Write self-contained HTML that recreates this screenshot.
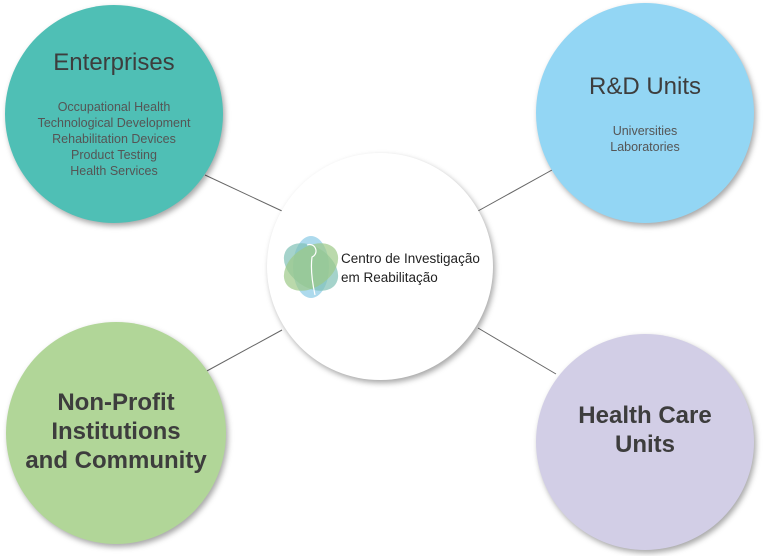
<!DOCTYPE html>
<html><head><style>
body{margin:0;width:768px;height:556px;background:#fff;overflow:hidden;position:relative;font-family:"Liberation Sans",sans-serif;}
.c{position:absolute;border-radius:50%;box-shadow:2px 3px 6px rgba(0,0,0,0.35);text-align:center;color:#444;}
.t{position:absolute;left:0;right:0;}
h{display:block;font-size:23px;font-weight:bold;color:#3d3d3d;}
.s{font-size:12.5px;line-height:16px;color:#555;}
</style></head><body>
<svg style="position:absolute;left:0;top:0" width="768" height="556">
<g stroke="#666" stroke-width="1">
<line x1="205" y1="175" x2="282" y2="211"/>
<line x1="478" y1="211" x2="552" y2="170"/>
<line x1="205" y1="372" x2="282" y2="330"/>
<line x1="478" y1="328" x2="556" y2="374"/>
</g></svg>
<div class="c" style="left:5px;top:5px;width:218px;height:218px;background:#4fbfb5">
<div class="t" style="top:44px"><h style="font-weight:normal;font-size:24px">Enterprises</h></div>
<div class="t s" style="top:94px">Occupational Health<br>Technological Development<br>Rehabilitation Devices<br>Product Testing<br>Health Services</div>
</div>
<div class="c" style="left:536px;top:3px;width:218px;height:220px;background:#93d6f4">
<div class="t" style="top:70px"><h style="font-weight:normal;font-size:24px">R&amp;D Units</h></div>
<div class="t s" style="top:120px">Universities<br>Laboratories</div>
</div>
<div class="c" style="left:6px;top:322px;width:220px;height:222px;background:#b1d698">
<div class="t" style="top:66px;font-size:24px;line-height:29px;font-weight:bold;color:#3d3d3d">Non-Profit<br>Institutions<br>and Community</div>
</div>
<div class="c" style="left:536px;top:334px;width:218px;height:216px;background:#d2cee6">
<div class="t" style="top:67px;font-size:24px;line-height:29px;font-weight:bold;color:#3d3d3d">Health Care<br>Units</div>
</div>
<div class="c" style="left:267px;top:153px;width:226px;height:227px;background:#fff">
<svg style="position:absolute;left:13px;top:82px" width="62" height="64">
<ellipse cx="31" cy="32" rx="18" ry="31" fill="#9fd3ea" opacity="0.85"/>
<ellipse cx="31" cy="32" rx="30" ry="20" fill="#7fc0b5" opacity="0.7" transform="rotate(35 31 32)"/>
<ellipse cx="31" cy="32" rx="30" ry="20" fill="#9cc987" opacity="0.7" transform="rotate(-35 31 32)"/>
<path d="M27 10 a6 6 0 1 1 5 12 q-2 15 3 38" fill="none" stroke="#fff" stroke-width="1.2"/>
</svg>
<div style="position:absolute;left:74px;top:96px;text-align:left;font-size:13.5px;line-height:19px;color:#222">Centro de Investigação<br>em Reabilitação</div>
</div>
</body></html>
